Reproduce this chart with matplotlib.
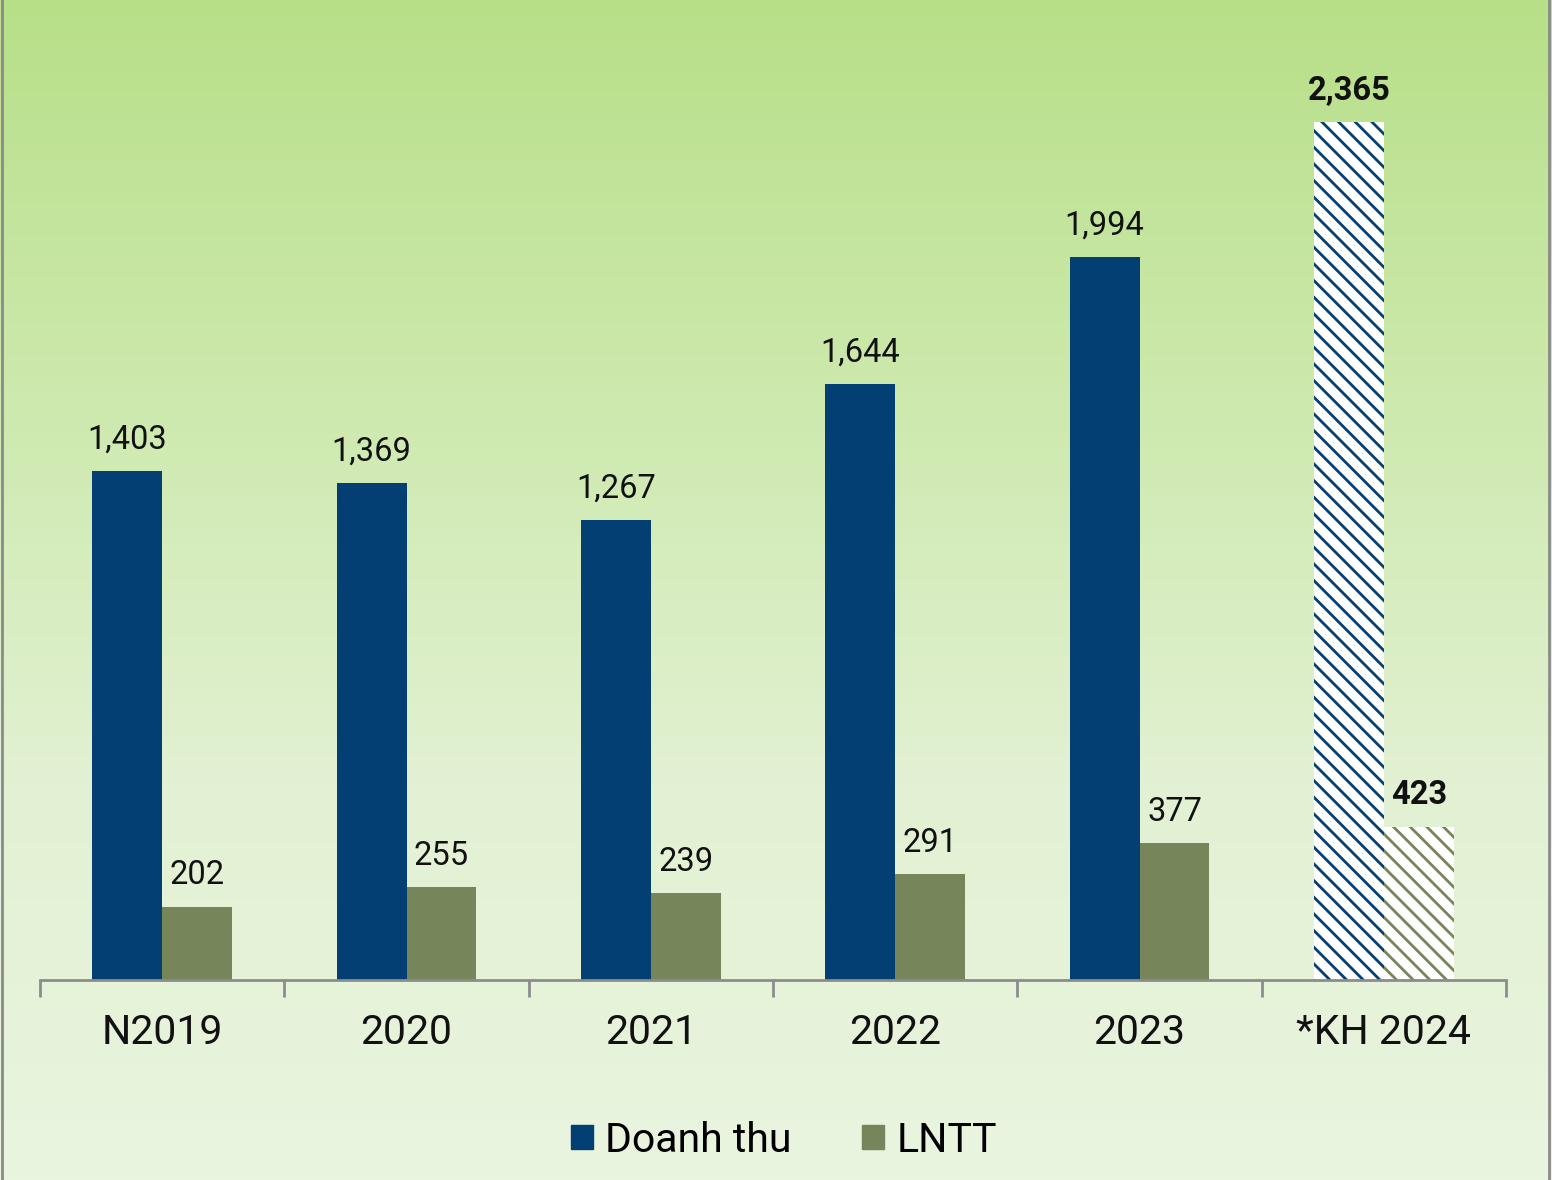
import matplotlib
matplotlib.use("Agg")
import matplotlib.pyplot as plt
import numpy as np
from matplotlib.colors import LinearSegmentedColormap
from matplotlib.patches import Patch

plt.rcParams['font.family'] = ['Roboto', 'DejaVu Sans']
plt.rcParams['hatch.linewidth'] = 2.0

# data
years = ['N2019', '2020', '2021', '2022', '2023', '*KH 2024']
doanh_thu = [1403, 1369, 1267, 1644, 1994, 2365]
lntt = [202, 255, 239, 291, 377, 423]

blue = '#033f73'
green = '#77865a'

fig = plt.figure(figsize=(15.52, 11.8), dpi=100)

# green gradient background
bg = fig.add_axes([0, 0, 1, 1], zorder=-10)
cmap = LinearSegmentedColormap.from_list('bg', ['#b7df88', '#cde9ad', '#e2f1d3', '#e9f5df'])
grad = np.linspace(0, 1, 256).reshape(-1, 1)
bg.imshow(grad, aspect='auto', cmap=cmap, extent=[0, 1, 0, 1], origin='upper')
bg.axis('off')
bg.plot([0.001, 0.001], [0, 1], color='#8a8a8a', lw=2)
bg.plot([0.998, 0.998], [0, 1], color='#8a8a8a', lw=2)
bg.set_xlim(0, 1)
bg.set_ylim(0, 1)

ax = fig.add_axes([40 / 1552, 200 / 1180, 1466 / 1552, 980 / 1180])
ax.patch.set_alpha(0)

x = np.arange(len(years))
w = 0.286
n = len(years)

for i in range(n):
    plan = i == n - 1
    if plan:
        ax.bar(x[i] - w / 2, doanh_thu[i], w, facecolor='white', edgecolor=blue,
               hatch='\\\\', linewidth=0)
        ax.bar(x[i] + w / 2, lntt[i], w, facecolor='white', edgecolor=green,
               hatch='\\\\', linewidth=0)
    else:
        ax.bar(x[i] - w / 2, doanh_thu[i], w, color=blue)
        ax.bar(x[i] + w / 2, lntt[i], w, color=green)
    fw = 'bold' if plan else 'normal'
    ax.annotate(f'{doanh_thu[i]:,}', (x[i] - w / 2, doanh_thu[i]), xytext=(0, 11),
                textcoords='offset points', ha='center', va='bottom',
                fontsize=23.5, fontweight=fw, color='#111111')
    ax.annotate(f'{lntt[i]:,}', (x[i] + w / 2, lntt[i]), xytext=(0, 11),
                textcoords='offset points', ha='center', va='bottom',
                fontsize=23.5, fontweight=fw, color='#111111')

ax.set_xlim(-0.5, n - 0.5)
ax.set_ylim(0, 2701)
ax.set_yticks([])
for s in ['top', 'right', 'left']:
    ax.spines[s].set_visible(False)
ax.spines['bottom'].set_color('#8c8c8c')
ax.spines['bottom'].set_linewidth(2)

# group separators as ticks, labels centered
ax.set_xticks(np.arange(-0.5, n, 1.0))
ax.set_xticklabels([])
ax.tick_params(axis='x', length=12, width=2, color='#8c8c8c', direction='out')
ax.set_xticks(x, minor=True)
ax.set_xticklabels(years, minor=True, fontsize=29.5, color='#111111')
ax.tick_params(axis='x', which='minor', length=0, pad=24)

handles = [Patch(color=blue, label='Doanh thu'), Patch(color=green, label='LNTT')]
fig.legend(handles=handles, loc='center', bbox_to_anchor=(0.505, 1 - 1140 / 1180),
           ncol=2, frameon=False, fontsize=29.5, handlelength=0.55, handleheight=0.55,
           handletextpad=0.3, columnspacing=1.7)

fig.savefig('out.png', dpi=100)
